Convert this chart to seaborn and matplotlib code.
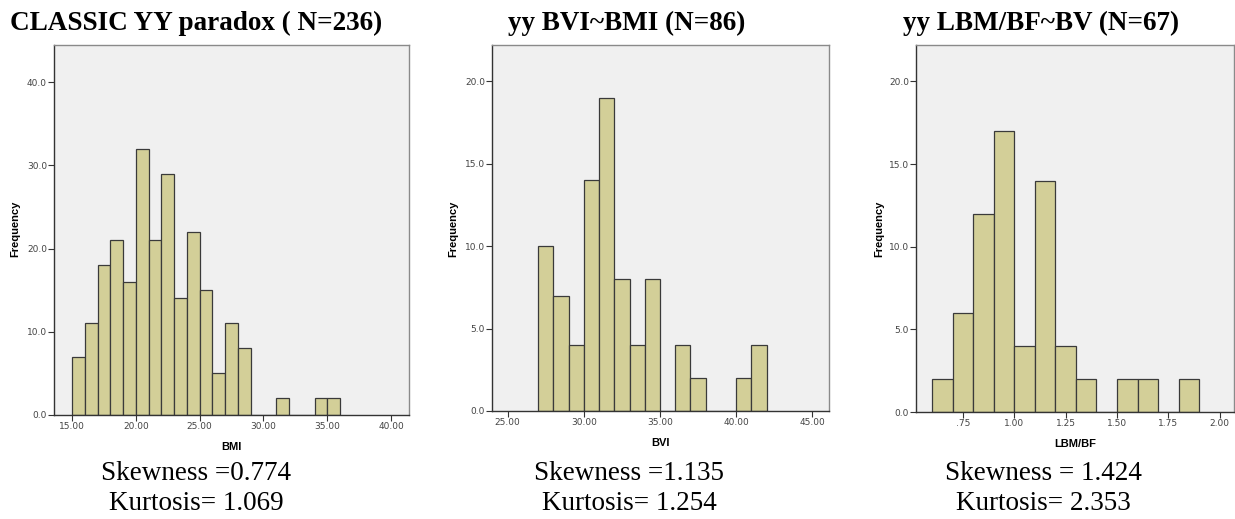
import numpy as np
import pandas as pd
import matplotlib
matplotlib.use("Agg")
import matplotlib.pyplot as plt
import seaborn as sns

# panel 1: BMI, bins of width 1 starting at 15
bmi_bins = np.arange(15, 36)
bmi_counts = [7, 11, 18, 21, 16, 32, 21, 29, 14, 22, 15, 5, 11, 8, 0, 0, 2, 0, 0, 2, 2]

# panel 2: BVI, bins of width 1 starting at 27
bvi_bins = np.arange(27, 42)
bvi_counts = [10, 7, 4, 14, 19, 8, 4, 8, 0, 4, 2, 0, 0, 2, 4]

# panel 3: LBM/BF, bins of width 0.1 starting at 0.6
lbm_bins = np.round(np.arange(0.6, 1.85, 0.1), 2)
lbm_counts = [2, 6, 12, 17, 4, 14, 4, 2, 0, 2, 2, 0, 2]

titles = ["CLASSIC YY paradox ( N=236)", "yy BVI~BMI (N=86)", "yy LBM/BF~BV (N=67)"]
xlabels = ["BMI", "BVI", "LBM/BF"]
skew_text = ["Skewness =0.774", "Skewness =1.135", "Skewness = 1.424"]
kurt_text = ["Kurtosis= 1.069", "Kurtosis= 1.254", "Kurtosis= 2.353"]

xticks = [[15, 20, 25, 30, 35, 40], [25, 30, 35, 40, 45], [0.75, 1.0, 1.25, 1.5, 1.75, 2.0]]
xticklabels = [["15.00", "20.00", "25.00", "30.00", "35.00", "40.00"],
               ["25.00", "30.00", "35.00", "40.00", "45.00"],
               [".75", "1.00", "1.25", "1.50", "1.75", "2.00"]]
yticks = [[0, 10, 20, 30, 40], [0, 5, 10, 15, 20], [0, 5, 10, 15, 20]]

sns.set_style("white")
W, H = 1235, 519
fig = plt.figure(figsize=(W / 100, H / 100), dpi=100)

# axes boxes in pixels: left, top, right, bottom
boxes = [(54, 45, 409, 415), (492, 45, 829, 411), (916, 45, 1234, 412)]
xlims = [(13.59, 41.4), (23.97, 46.1), (0.521, 2.07)]
ylims = [(0, 44.45), (0, 22.2), (0, 22.2)]
widths = [1, 1, 0.1]
data = [(bmi_bins, bmi_counts), (bvi_bins, bvi_counts), (lbm_bins, lbm_counts)]
title_x = [10, 508, 903]
ylabel_x = [15, 453, 879]
note_x = [196, 629, 1043]

for i in range(3):
    l, t, r, b = boxes[i]
    ax = fig.add_axes([l / W, 1 - b / H, (r - l) / W, (b - t) / H])
    ax.set_facecolor("#f0f0f0")
    starts, counts = data[i]
    edges = list(np.append(starts, starts[-1] + widths[i]))
    # expand the counts back into one value per case (bin middle)
    values = np.repeat(starts + widths[i] / 2, counts)
    df = pd.DataFrame({"v": values})
    sns.histplot(data=df, x="v", bins=edges, ax=ax,
                 color="#d3cf98", edgecolor="#3a3a3a", linewidth=0.9, alpha=1)
    ax.set_xlim(*xlims[i])
    ax.set_ylim(*ylims[i])
    ax.set_xticks(xticks[i])
    ax.set_xticklabels(xticklabels[i])
    ax.set_yticks(yticks[i])
    ax.set_yticklabels([f"{v:.1f}" for v in yticks[i]])
    ax.tick_params(axis="both", labelsize=6.5, labelcolor="#444444", length=4,
                   width=0.8, color="#333333", direction="out", pad=1)
    ax.tick_params(left=True, bottom=True)
    for side in ["left", "bottom"]:
        ax.spines[side].set_color("#333333")
        ax.spines[side].set_linewidth(1)
    for side in ["top", "right"]:
        ax.spines[side].set_color("#8a8a8a")
        ax.spines[side].set_linewidth(1)
    ax.set_xlabel(xlabels[i], fontsize=8, fontweight="bold", family="Liberation Sans",
                  labelpad=8, color="black")
    ax.set_ylabel("")
    fig.text(ylabel_x[i] / W, 1 - 229 / H, "Frequency", rotation=90, fontsize=8,
             fontweight="bold", family="Liberation Sans", ha="center", va="center", color="black")
    fig.text(title_x[i] / W, 1 - 23 / H, titles[i], fontsize=19.5, fontweight="bold",
             family="Liberation Serif", ha="left", va="center", color="black")
    fig.text(note_x[i] / W, 1 - 474 / H, skew_text[i], fontsize=19.5,
             family="Liberation Serif", ha="center", va="center", color="black")
    fig.text(note_x[i] / W, 1 - 503 / H, kurt_text[i], fontsize=19.5,
             family="Liberation Serif", ha="center", va="center", color="black")

fig.savefig("out.png", dpi=100, facecolor="white")
